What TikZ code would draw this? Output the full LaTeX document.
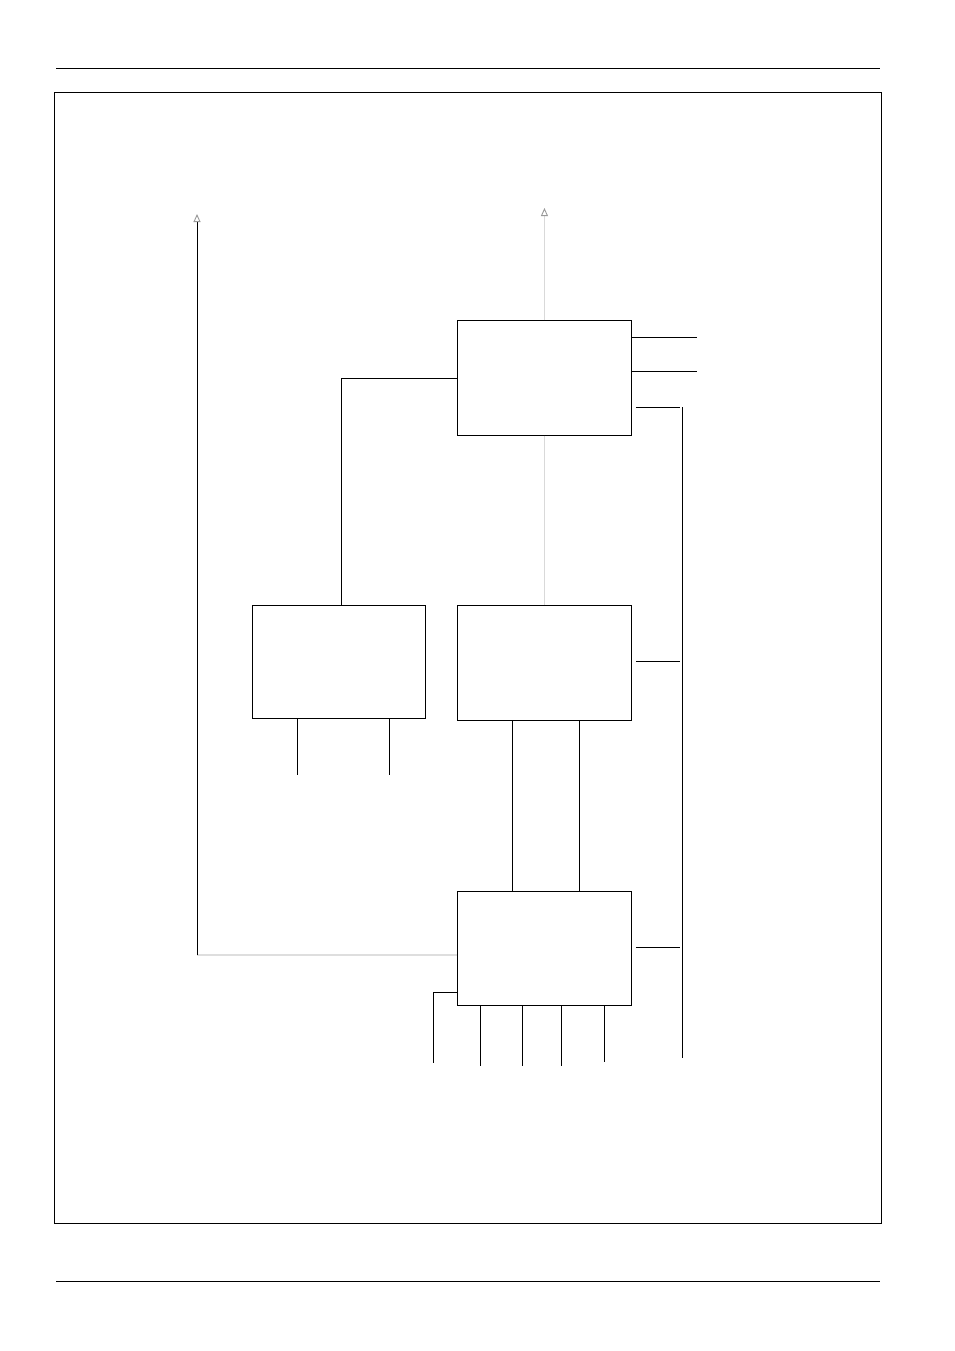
\documentclass[tikz,border=0pt]{standalone}
\usetikzlibrary{arrows.meta,calc}
\begin{document}
\begin{tikzpicture}[x=1pt,y=-1pt,line width=0.9pt,
    >={Triangle[open,length=8pt,width=7pt,color=black!40]},
    blk/.style={draw,anchor=north west,minimum width=174pt,minimum height=115pt,inner sep=0pt},
    faint/.style={draw=black!15}]
  \useasboundingbox (0,0) rectangle (954,1351);
  % page rules and frame
  \draw (56,68)--(880,68);
  \draw (56,1281)--(880,1281);
  \draw (54,92) rectangle (881,1223);
  % blocks
  \node[blk] (upper) at (457,320) {};
  \node[blk,minimum width=173pt,minimum height=113pt] (left) at (252,605) {};
  \node[blk] (mid) at (457,605) {};
  \node[blk,minimum height=114pt] (lower) at (457,891) {};
  % free ends
  \coordinate (outtop) at (543,208);
  \coordinate (fbtop) at (197,214);
  \coordinate (fbcorner) at (197,955);
  \coordinate (bustop) at (682,407);
  \coordinate (busbot) at (682,1058);
  % upper block
  \draw[faint,->] (upper.north) -- (upper.north|-outtop);
  \draw[faint] (upper.south) -- (mid.north);
  \draw (upper.west) -| ($(left.north)+(2,0)$);
  \draw ($(upper.north east)+(0,17)$) -- ++(65,0);
  \draw ($(upper.north east)+(0,51)$) -- ++(65,0);
  \draw ($(upper.north east)+(4,87)$) -- ($(bustop)+(-2,0)$);
  \draw (bustop) -- (busbot);
  % left block
  \draw ($(left.south west)+(45,0)$) -- ++(0,56);
  \draw ($(left.south west)+(137,0)$) -- ++(0,56);
  % middle block
  \draw ($(mid.south west)+(55,0)$) -- ($(lower.north west)+(55,0)$);
  \draw ($(mid.south west)+(122,0)$) -- ($(lower.north west)+(122,0)$);
  \draw ($(mid.east)+(4,-2)$) -- ($(bustop|-mid.east)+(-2,-2)$);
  % lower block
  \draw[line width=1.6pt,draw=black!13] (lower.west|-fbcorner) -- (fbcorner);
  \draw[->] (fbcorner) -- (fbtop);
  \draw ($(lower.east)+(4,-1)$) -- ($(bustop|-lower.east)+(-2,-1)$);
  \draw ($(lower.south west)+(0,-13)$) -- ++(-24,0) -- ++(0,70);
  \foreach \dx/\len in {23/60,65/60,104/60,147/56}
    \draw ($(lower.south west)+(\dx,0)$) -- ++(0,\len);
\end{tikzpicture}
\end{document}
